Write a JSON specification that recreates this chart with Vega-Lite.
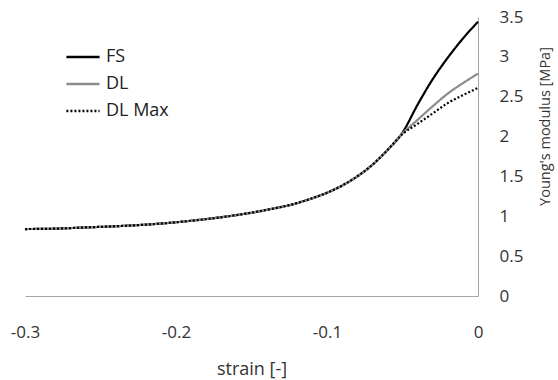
{
  "$schema": "https://vega.github.io/schema/vega-lite/v6.json",
  "width": 453,
  "height": 279,
  "autosize": "none",
  "padding": {"left": 25, "top": 17, "right": 80, "bottom": 84},
  "background": "white",
  "config": {
    "view": {"stroke": null},
    "font": "Open Sans",
    "axis": {"labelFont": "Open Sans", "titleFont": "Open Sans", "labelColor": "#333333", "titleColor": "#333333", "labelFontSize": 17, "titleFontSize": 17, "titleFontWeight": "normal", "grid": false, "ticks": false, "domainColor": "#a6a6a6", "domainWidth": 1, "labelFlush": false, "labelOverlap": false}
  },
  "datasets": {
    "curves": [
      {"strain": -0.30, "E": 0.84, "series": "FS"},
      {"strain": -0.28, "E": 0.845, "series": "FS"},
      {"strain": -0.26, "E": 0.86, "series": "FS"},
      {"strain": -0.24, "E": 0.875, "series": "FS"},
      {"strain": -0.22, "E": 0.895, "series": "FS"},
      {"strain": -0.20, "E": 0.925, "series": "FS"},
      {"strain": -0.18, "E": 0.965, "series": "FS"},
      {"strain": -0.16, "E": 1.015, "series": "FS"},
      {"strain": -0.14, "E": 1.08, "series": "FS"},
      {"strain": -0.12, "E": 1.165, "series": "FS"},
      {"strain": -0.11, "E": 1.225, "series": "FS"},
      {"strain": -0.10, "E": 1.295, "series": "FS"},
      {"strain": -0.09, "E": 1.385, "series": "FS"},
      {"strain": -0.08, "E": 1.50, "series": "FS"},
      {"strain": -0.07, "E": 1.645, "series": "FS"},
      {"strain": -0.06, "E": 1.83, "series": "FS"},
      {"strain": -0.05, "E": 2.05, "series": "FS"},
      {"strain": -0.04, "E": 2.40, "series": "FS"},
      {"strain": -0.03, "E": 2.72, "series": "FS"},
      {"strain": -0.02, "E": 2.99, "series": "FS"},
      {"strain": -0.01, "E": 3.23, "series": "FS"},
      {"strain": 0.0, "E": 3.44, "series": "FS"},
      {"strain": -0.30, "E": 0.84, "series": "DL"},
      {"strain": -0.28, "E": 0.845, "series": "DL"},
      {"strain": -0.26, "E": 0.86, "series": "DL"},
      {"strain": -0.24, "E": 0.875, "series": "DL"},
      {"strain": -0.22, "E": 0.895, "series": "DL"},
      {"strain": -0.20, "E": 0.925, "series": "DL"},
      {"strain": -0.18, "E": 0.965, "series": "DL"},
      {"strain": -0.16, "E": 1.015, "series": "DL"},
      {"strain": -0.14, "E": 1.08, "series": "DL"},
      {"strain": -0.12, "E": 1.165, "series": "DL"},
      {"strain": -0.11, "E": 1.225, "series": "DL"},
      {"strain": -0.10, "E": 1.295, "series": "DL"},
      {"strain": -0.09, "E": 1.385, "series": "DL"},
      {"strain": -0.08, "E": 1.50, "series": "DL"},
      {"strain": -0.07, "E": 1.645, "series": "DL"},
      {"strain": -0.06, "E": 1.83, "series": "DL"},
      {"strain": -0.05, "E": 2.04, "series": "DL"},
      {"strain": -0.04, "E": 2.21, "series": "DL"},
      {"strain": -0.03, "E": 2.38, "series": "DL"},
      {"strain": -0.02, "E": 2.54, "series": "DL"},
      {"strain": -0.01, "E": 2.67, "series": "DL"},
      {"strain": 0.0, "E": 2.79, "series": "DL"},
      {"strain": -0.30, "E": 0.84, "series": "DL Max"},
      {"strain": -0.28, "E": 0.845, "series": "DL Max"},
      {"strain": -0.26, "E": 0.86, "series": "DL Max"},
      {"strain": -0.24, "E": 0.875, "series": "DL Max"},
      {"strain": -0.22, "E": 0.895, "series": "DL Max"},
      {"strain": -0.20, "E": 0.925, "series": "DL Max"},
      {"strain": -0.18, "E": 0.965, "series": "DL Max"},
      {"strain": -0.16, "E": 1.015, "series": "DL Max"},
      {"strain": -0.14, "E": 1.08, "series": "DL Max"},
      {"strain": -0.12, "E": 1.165, "series": "DL Max"},
      {"strain": -0.11, "E": 1.225, "series": "DL Max"},
      {"strain": -0.10, "E": 1.295, "series": "DL Max"},
      {"strain": -0.09, "E": 1.385, "series": "DL Max"},
      {"strain": -0.08, "E": 1.50, "series": "DL Max"},
      {"strain": -0.07, "E": 1.645, "series": "DL Max"},
      {"strain": -0.06, "E": 1.83, "series": "DL Max"},
      {"strain": -0.05, "E": 2.03, "series": "DL Max"},
      {"strain": -0.04, "E": 2.16, "series": "DL Max"},
      {"strain": -0.03, "E": 2.29, "series": "DL Max"},
      {"strain": -0.02, "E": 2.42, "series": "DL Max"},
      {"strain": -0.01, "E": 2.52, "series": "DL Max"},
      {"strain": 0.0, "E": 2.61, "series": "DL Max"}
    ]
  },
  "data": {"name": "curves"},
  "mark": {"type": "line", "strokeWidth": 2.2, "interpolate": "monotone"},
  "encoding": {
    "x": {
      "field": "strain", "type": "quantitative",
      "scale": {"domain": [-0.3, 0], "nice": false, "zero": false},
      "axis": {"values": [-0.3, -0.2, -0.1, 0], "labelPadding": 28, "titlePadding": 20, "title": "strain [-]", "titleFontSize": 18, "labelExpr": "'' + round(datum.value*10)/10"}
    },
    "y": {
      "field": "E", "type": "quantitative",
      "scale": {"domain": [0, 3.5], "nice": false},
      "axis": {"orient": "right", "values": [0, 0.5, 1, 1.5, 2, 2.5, 3, 3.5], "labelAlign": "left", "labelPadding": 21, "titleAngle": 270, "titleBaseline": "middle", "titleAlign": "center", "titleX": 67, "titleY": 109, "titleFontSize": 14.5, "title": "Young's modulus [MPa]", "labelExpr": "'' + round(datum.value*10)/10"}
    },
    "color": {
      "field": "series", "type": "nominal",
      "scale": {"domain": ["FS", "DL", "DL Max"], "range": ["#000000", "#8c8c8c", "#000000"]},
      "legend": {"orient": "none", "legendX": 40, "legendY": 22, "title": null, "symbolType": "stroke", "symbolSize": 1100, "symbolStrokeWidth": 2.5, "labelFontSize": 18, "labelFont": "Open Sans", "labelColor": "#222222", "rowPadding": -3, "labelOffset": 5}
    },
    "strokeDash": {
      "field": "series", "type": "nominal",
      "scale": {"domain": ["FS", "DL", "DL Max"], "range": [[1, 0], [1, 0], [2, 2]]},
      "legend": {"orient": "none", "legendX": 40, "legendY": 22, "title": null, "symbolType": "stroke", "symbolSize": 1100, "symbolStrokeWidth": 2.5, "labelFontSize": 18, "labelFont": "Open Sans", "labelColor": "#222222", "rowPadding": -3, "labelOffset": 5}
    },
    "order": {"field": "series", "sort": "descending"}
  }
}
